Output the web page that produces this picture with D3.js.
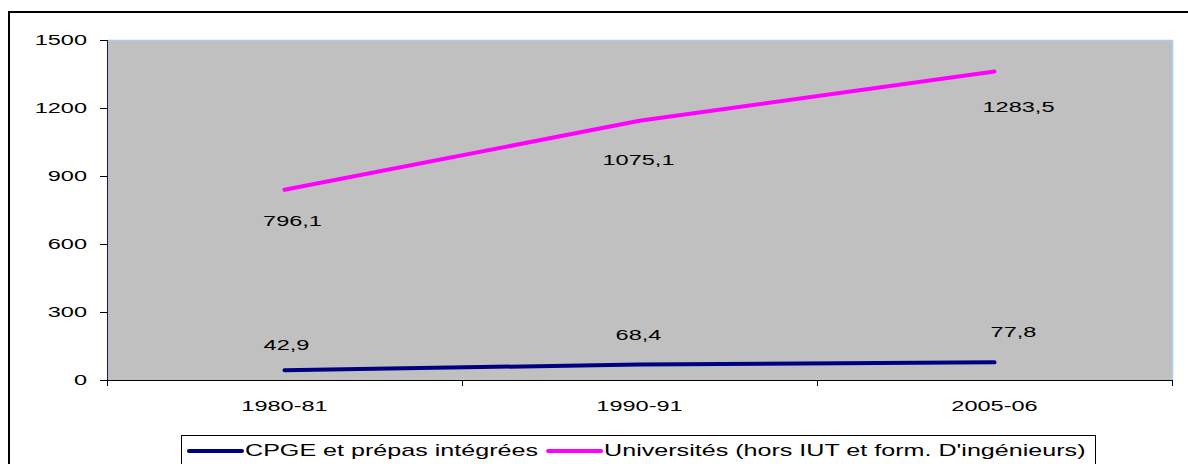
<!DOCTYPE html>
<html>
<head>
<meta charset="utf-8">
<script src="https://cdn.jsdelivr.net/npm/d3@7"></script>
<style>
  html, body { margin: 0; padding: 0; background: #ffffff; }
  svg { display: block; }
  text { font-family: "Liberation Sans", Arial, sans-serif; fill: #000; }
</style>
</head>
<body>
<svg id="chart" width="1188" height="464"></svg>
<script>
// ---- data ----
const categories = ["1980-81", "1990-91", "2005-06"];
const cpge = [42.9, 68.4, 77.8];
const universites = [796.1, 1075.1, 1283.5];
const yTicks = [0, 300, 600, 900, 1200, 1500];
const seriesNames = ["CPGE et prépas intégrées", "Universités (hors IUT et form. D'ingénieurs)"];

// ---- layout / style ----
const W = 1188, H = 464;
const plot = { left: 107, top: 40, right: 1172, bottom: 380 };
const SX = 1.57;               // horizontal text stretch of the original picture
const colors = ["#000080", "#ff00ff"];
const labelOffsets = [          // [dx, dy] per point, per series
  [[2, -26], [-1, -30], [19, -31]],
  [[8, 31], [-1, 39], [24, 35]]
];

const svg = d3.select("#chart");

function sText(parent, x, y, str, anchor, size) {
  const g = parent.append("g").attr("transform", `translate(${x},${y}) scale(${SX},1)`);
  return g.append("text")
    .attr("text-anchor", anchor || "start")
    .attr("font-size", size || 15)
    .text(str);
}

// outer frame
svg.append("rect").attr("x", 9).attr("y", 12).attr("width", 1200).attr("height", 480)
  .attr("fill", "none").attr("stroke", "#000").attr("stroke-width", 2);

const x = d3.scaleBand().domain(categories).range([plot.left, plot.right]).paddingInner(0).paddingOuter(0);
const y = d3.scaleLinear().domain([0, 1500]).range([plot.bottom, plot.top]);

// plot area
svg.append("rect").attr("x", plot.left).attr("y", plot.top)
  .attr("width", plot.right - plot.left).attr("height", plot.bottom - plot.top)
  .attr("fill", "#c0c0c0");
// light blue border on top and right
svg.append("path")
  .attr("d", `M${plot.left},${plot.top + 0.5}H${plot.right + 0.5}V${plot.bottom}`)
  .attr("fill", "none").attr("stroke", "#a6cef5").attr("stroke-width", 1.5);

// y axis
const yAxis = svg.append("g");
yAxis.append("line").attr("x1", plot.left + 0.5).attr("x2", plot.left + 0.5)
  .attr("y1", plot.top).attr("y2", plot.bottom).attr("stroke", "#1a1a4a").attr("stroke-width", 1);
yTicks.forEach(t => {
  const yy = Math.round(y(t)) + 0.5;
  yAxis.append("line").attr("x1", plot.left - 7).attr("x2", plot.left).attr("y1", yy).attr("y2", yy)
    .attr("stroke", "#000").attr("stroke-width", 1);
  sText(yAxis, 87, y(t) + 5.4, String(t), "end", 15);
});

// x axis
const xAxis = svg.append("g");
xAxis.append("line").attr("x1", plot.left).attr("x2", plot.right)
  .attr("y1", plot.bottom + 0.5).attr("y2", plot.bottom + 0.5).attr("stroke", "#000").attr("stroke-width", 1);
const boundaries = categories.map(c => x(c)).concat([x(categories[categories.length - 1]) + x.bandwidth()]);
boundaries.forEach(b => {
  const bx = Math.round(b) + 0.5;
  xAxis.append("line").attr("x1", bx).attr("x2", bx).attr("y1", plot.bottom).attr("y2", plot.bottom + 6)
    .attr("stroke", "#000").attr("stroke-width", 1);
});
categories.forEach(c => {
  sText(xAxis, x(c) + x.bandwidth() / 2, 411, c, "middle", 15);
});

// stacked series
const rows = categories.map((c, i) => ({ cat: c, cpge: cpge[i], univ: universites[i] }));
const stack = d3.stack().keys(["cpge", "univ"])(rows);
const raw = [cpge, universites];

const line = d3.line()
  .x(d => x(d.data.cat) + x.bandwidth() / 2)
  .y(d => y(d[1]));

stack.forEach((s, si) => {
  svg.append("path").datum(s)
    .attr("d", line)
    .attr("fill", "none")
    .attr("stroke", colors[si])
    .attr("stroke-width", 4)
    .attr("stroke-linecap", "round")
    .attr("stroke-linejoin", "round");
});

// data labels
stack.forEach((s, si) => {
  s.forEach((d, i) => {
    const px = x(d.data.cat) + x.bandwidth() / 2 + labelOffsets[si][i][0];
    const py = y(d[1]) + labelOffsets[si][i][1] + 5.4;
    sText(svg, px, py, d3.format(".1f")(raw[si][i]).replace(".", ","), "middle", 15);
  });
});

// legend
const legend = svg.append("g");
legend.append("rect").attr("x", 181.5).attr("y", 435.5).attr("width", 914).attr("height", 60)
  .attr("fill", "#fff").attr("stroke", "#000").attr("stroke-width", 1);
let lx = 189;
seriesNames.forEach((name, i) => {
  legend.append("line").attr("x1", lx).attr("x2", lx + 53).attr("y1", 451).attr("y2", 451)
    .attr("stroke", colors[i]).attr("stroke-width", 4).attr("stroke-linecap", "round");
  const t = sText(legend, lx + 56, 456, name, "start", 16);
  const w = t.node().getComputedTextLength() * SX;
  lx = lx + 56 + w + 10;
});
</script>
</body>
</html>
